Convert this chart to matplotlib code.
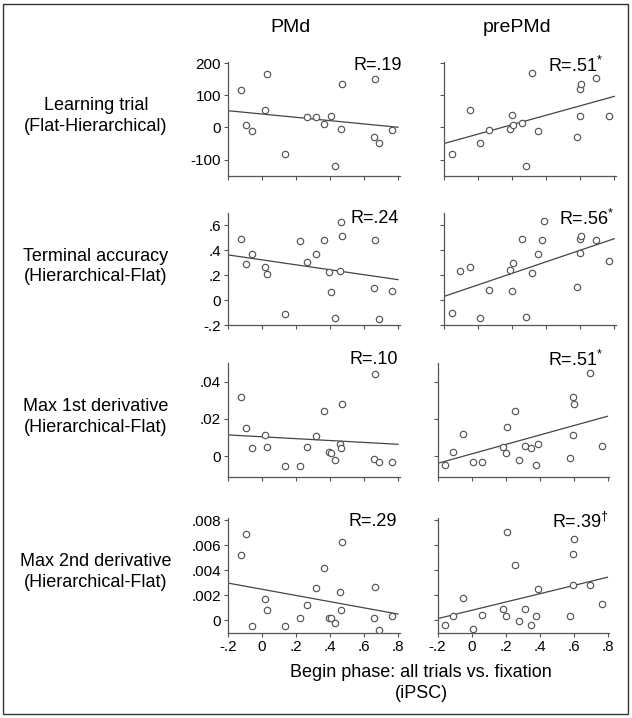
import numpy as np
import matplotlib
matplotlib.use('Agg')
import matplotlib.pyplot as plt
from matplotlib.patches import Rectangle

plt.rcParams['font.family'] = ['Liberation Sans', 'DejaVu Sans']
plt.rcParams['mathtext.default'] = 'regular'

# ── data: one point per subject, x shared within a column ─────────
nan = np.nan
pmd_x = [-0.124, -0.094, -0.059, 0.018, 0.029, 0.135, 0.224, 0.265, 0.315, 0.365,
         0.394, 0.406, 0.432, 0.459, 0.465, 0.471, 0.656, 0.665, 0.688, 0.762]
prepmd_x = [-0.154, -0.107, -0.051, 0.008, 0.064, 0.185, 0.201, 0.207, 0.257, 0.280,
            0.316, 0.349, 0.377, 0.389, 0.582, 0.596, 0.598, 0.605, 0.695, 0.770]

learning_pmd = [117, 7, -12, 53, 166, -84, nan, 34, 34, 12,
                nan, 36, -120, nan, -6, 134, -29, 152, -49, -9]
learning_pre = [-84, nan, 56, -47, -8, -5, 38, 9, 14, -119,
                169, -11, nan, nan, -29, 35, 119, 136, 154, 35]

terminal_pmd = [0.486, 0.291, 0.368, 0.261, 0.211, -0.112, 0.472, 0.307, 0.373, 0.485,
                0.224, 0.067, -0.141, 0.235, 0.624, 0.512, 0.096, 0.48, -0.155, 0.075]
terminal_pre = [-0.101, 0.232, 0.267, -0.144, 0.08, 0.24, 0.075, 0.299, 0.493, -0.133,
                0.219, 0.373, 0.48, 0.632, 0.104, 0.379, 0.488, 0.517, 0.485, 0.309]

deriv1_pmd = [0.0316, 0.0152, 0.0043, 0.0115, 0.0051, -0.0055, -0.0050, 0.0051, 0.011, 0.0241,
              0.0025, 0.0019, -0.002, 0.0064, 0.0046, 0.0279, -0.0013, 0.0443, -0.003, -0.003]
deriv1_pre = [-0.0048, 0.0025, 0.0117, -0.003, -0.003, 0.0048, 0.0019, 0.0155, 0.0243, -0.0018,
              0.0054, 0.0045, -0.0047, 0.0066, -0.0011, 0.0318, 0.0113, 0.0282, 0.0445, 0.0054]

deriv2_pmd = [0.0052, 0.0069, -0.0005, 0.0017, 0.0008, -0.0005, 0.00015, 0.0012, 0.0026, 0.0042,
              0.00015, 0.00015, -0.0002, 0.0023, 0.0008, 0.0063, 0.00015, 0.0027, -0.0008, 0.0003]
deriv2_pre = [-0.0004, 0.0003, 0.0018, -0.0007, 0.0004, 0.0009, 0.0003, 0.0071, 0.0044, -0.0001,
              0.0009, -0.0004, 0.0003, 0.0025, 0.0003, 0.0028, 0.0053, 0.0065, 0.0028, 0.0013]

row_labels = ['Learning trial\n(Flat-Hierarchical)', 'Terminal accuracy\n(Hierarchical-Flat)',
              'Max 1st derivative\n(Hierarchical-Flat)', 'Max 2nd derivative\n(Hierarchical-Flat)']
col_titles = ['PMd', 'prePMd']
r_pmd = ['R=.19', 'R=.24', 'R=.10', 'R=.29']
r_pre = ['R=.51$^{*}$', 'R=.56$^{*}$', 'R=.51$^{*}$', 'R=.39$^{\u2020}$']

x_ticks = [-0.2, 0, 0.2, 0.4, 0.6, 0.8]
x_ticklabels = ['-.2', '0', '.2', '.4', '.6', '.8']
y_ticks = [[-100, 0, 100, 200], [-0.2, 0, 0.2, 0.4, 0.6], [0, 0.02, 0.04],
           [0, 0.002, 0.004, 0.006, 0.008]]
y_ticklabels = [['-100', '0', '100', '200'], ['-.2', '0', '.2', '.4', '.6'],
                ['0', '.02', '.04'], ['0', '.002', '.004', '.006', '.008']]
y_lims = [(-152, 204), (-0.2, 0.7), (-0.011, 0.05), (-0.001, 0.0082)]

# ── layout (pixels) ──────────────────────────────────────────
W, H = 632, 718
GRAY = '#555555'


def px_rect(left, top, width, height):
    return [left / W, 1 - (top + height) / H, width / W, height / H]


def px_xy(x, y):
    return x / W, 1 - y / H


row_top = [62, 212.7, 363, 518]
row_h = [114.3, 112.3, 113.7, 114.7]
col_left = [[228, 444.3], [228, 444.3], [228, 437.5], [228, 437.5]]
r_pos = [[(402, 65), (603, 66)], [(399, 218), (614, 219)],
         [(398, 360), (603, 360)], [(397, 522), (609, 522)]]

fig = plt.figure(figsize=(W / 100, H / 100), dpi=100)

rows = [(learning_pmd, learning_pre), (terminal_pmd, terminal_pre),
        (deriv1_pmd, deriv1_pre), (deriv2_pmd, deriv2_pre)]
xs = [pmd_x, prepmd_x]
r_texts = [r_pmd, r_pre]

for i, pair in enumerate(rows):
    for j, yv in enumerate(pair):
        ax = fig.add_axes(px_rect(col_left[i][j], row_top[i], 171.7, row_h[i]))
        x = np.array(xs[j], dtype=float)
        y = np.array(yv, dtype=float)
        ax.plot(x, y, 'o', ms=4.6, mfc='white', mec=GRAY, mew=0.85, zorder=3)
        # least-squares line through the subjects that have a value
        ok = ~np.isnan(y)
        slope, icpt = np.polyfit(x[ok], y[ok], 1)
        lx = np.array([-0.2, 0.8])
        ax.plot(lx, icpt + slope * lx, color='#444444', lw=0.9, zorder=2)

        ax.set_xlim(-0.2, 0.81)
        ax.set_ylim(*y_lims[i])
        ax.set_xticks(x_ticks)
        ax.set_yticks(y_ticks[i])
        ax.set_xticklabels(x_ticklabels if i == 3 else [])
        ax.set_yticklabels(y_ticklabels[i] if j == 0 else [])
        for s in ['top', 'right']:
            ax.spines[s].set_visible(False)
        for s in ['left', 'bottom']:
            ax.spines[s].set_color(GRAY)
            ax.spines[s].set_linewidth(0.9)
        ax.tick_params(length=3, width=0.8, color=GRAY, labelsize=11, pad=2)
        ax.patch.set_alpha(0)

        rx, ry = r_pos[i][j]
        fig.text(*px_xy(rx, ry), r_texts[j][i], ha='right', va='center', fontsize=13)

    fig.text(*px_xy(96, row_top[i] + 54), row_labels[i], ha='center', va='center',
             fontsize=13, linespacing=1.25)

fig.text(*px_xy(290, 27), col_titles[0], ha='center', va='center', fontsize=14)
fig.text(*px_xy(517, 27), col_titles[1], ha='center', va='center', fontsize=14)
fig.text(*px_xy(421, 683), 'Begin phase: all trials vs. fixation\n(iPSC)',
         ha='center', va='center', fontsize=13, linespacing=1.25)

fig.patches.append(Rectangle((3 / W, 4 / H), 625 / W, 710 / H, transform=fig.transFigure,
                             fill=False, edgecolor='#333333', lw=1))

fig.savefig('out.png', dpi=100)
